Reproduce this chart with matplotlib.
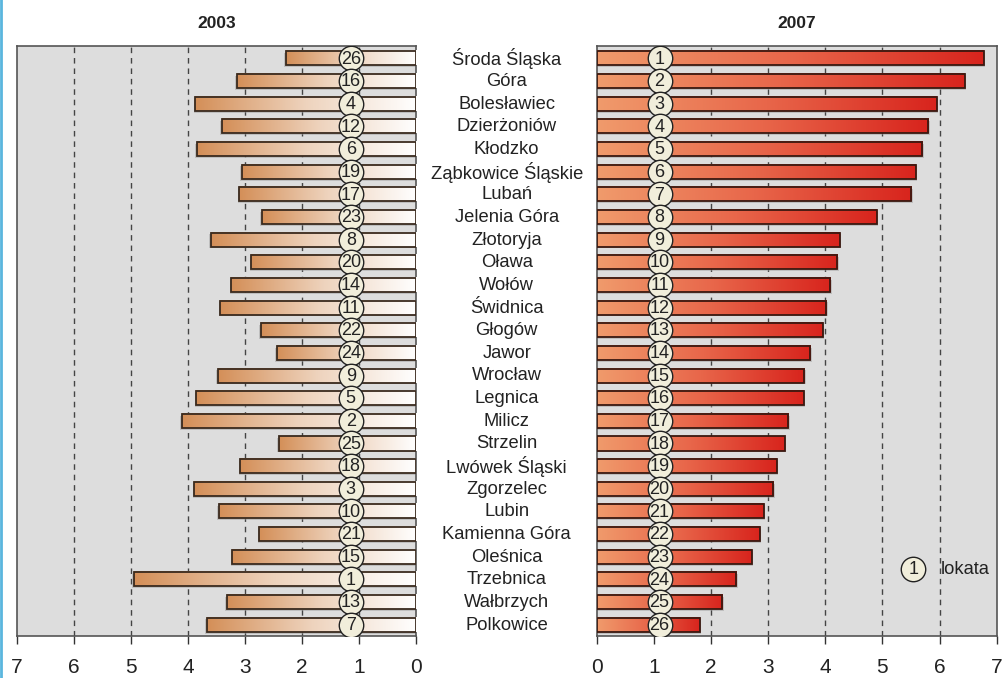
import numpy as np
import matplotlib
matplotlib.use("Agg")
import matplotlib.pyplot as plt
from matplotlib.colors import LinearSegmentedColormap
from matplotlib.transforms import blended_transform_factory
from matplotlib.lines import Line2D

plt.rcParams['font.family'] = ['Liberation Sans', 'DejaVu Sans']

counties = ["Środa Śląska", "Góra", "Bolesławiec", "Dzierżoniów", "Kłodzko",
            "Ząbkowice Śląskie", "Lubań", "Jelenia Góra", "Złotoryja", "Oława",
            "Wołów", "Świdnica", "Głogów", "Jawor", "Wrocław", "Legnica",
            "Milicz", "Strzelin", "Lwówek Śląski", "Zgorzelec", "Lubin",
            "Kamienna Góra", "Oleśnica", "Trzebnica", "Wałbrzych", "Polkowice"]

values_2003 = [2.29, 3.145, 3.87, 3.41, 3.84, 3.06, 3.10, 2.71, 3.60, 2.89,
               3.24, 3.43, 2.72, 2.445, 3.48, 3.85, 4.11, 2.415, 3.08, 3.89,
               3.46, 2.75, 3.22, 4.95, 3.32, 3.67]
ranks_2003 = [26, 16, 4, 12, 6, 19, 17, 23, 8, 20, 14, 11, 22, 24, 9, 5, 2,
              25, 18, 3, 10, 21, 15, 1, 13, 7]

values_2007 = [6.77, 6.44, 5.95, 5.80, 5.70, 5.58, 5.50, 4.90, 4.25, 4.21,
               4.09, 4.01, 3.955, 3.73, 3.635, 3.62, 3.35, 3.29, 3.15, 3.09,
               2.92, 2.85, 2.71, 2.44, 2.19, 1.80]
ranks_2007 = list(range(1, 27))

titles = ["2003", "2007"]
tick_values = [0, 1, 2, 3, 4, 5, 6, 7]
legend_label = "lokata"

W, H = 1003, 678
fig = plt.figure(figsize=(W / 100, H / 100), dpi=100)
fig.patch.set_facecolor("white")

bottom = (678 - 636) / H
height = 590 / H
ax1 = fig.add_axes([16.5 / W, bottom, 400 / W, height])
ax2 = fig.add_axes([596.7 / W, bottom, 400 / W, height])

cmap_left = LinearSegmentedColormap.from_list("l", ["#ffffff", "#eed3bd", "#d48f58"])
cmap_right = LinearSegmentedColormap.from_list("r", ["#f09b6c", "#e8664a", "#d8241d"])

y = np.arange(len(counties))
bar_h = 0.62
grad = np.linspace(0, 1, 256).reshape(1, -1)

def draw_panel(ax, vals, ranks, cmap, circ_x, edge):
    ax.set_facecolor("#dddddd")
    bars = ax.barh(y, vals, height=bar_h, facecolor="none", edgecolor=edge,
                   linewidth=1.3, zorder=4)
    for b in bars:
        x0, w = b.get_x(), b.get_width()
        yb, hh = b.get_y(), b.get_height()
        ax.add_patch(plt.Rectangle((x0, yb + 0.08), w + 0.03, hh, facecolor="#9a9a9a",
                                   edgecolor="none", alpha=0.45, zorder=2.5))
        ax.imshow(grad, cmap=cmap, extent=(x0, x0 + w, yb + hh, yb),
                  aspect="auto", interpolation="bilinear", zorder=3)
    ax.scatter([circ_x] * len(y), y, s=310, facecolor="#f1eedb", edgecolor="#222222",
               linewidth=1.0, zorder=5)
    for yi, r in zip(y, ranks):
        ax.text(circ_x, yi + 0.03, str(r), ha="center", va="center", fontsize=13,
                color="#222222", zorder=6)
    ax.set_ylim(25.5, -0.55)
    ax.set_yticks([])
    ax.set_xticks(tick_values)
    ax.set_xticklabels([str(t) for t in tick_values], fontsize=15, color="#222222")
    ax.tick_params(axis="x", direction="out", length=6, width=1, color="#333333", pad=10)
    for v in range(1, 7):
        ax.axvline(v, color="#444444", linestyle=(0, (4, 3.5)), linewidth=1.0, zorder=1)
    for s in ax.spines.values():
        s.set_color("#555555")
        s.set_linewidth(1.2)

draw_panel(ax1, values_2003, ranks_2003, cmap_left, 1.15, "#3a2a1e")
ax1.set_xlim(7, 0)
draw_panel(ax2, values_2007, ranks_2007, cmap_right, 1.1, "#3a1810")
ax2.set_xlim(0, 7)

ax1.set_title(titles[0], fontsize=12.5, fontweight="bold", color="#222222", pad=13)
ax2.set_title(titles[1], fontsize=12.5, fontweight="bold", color="#222222", pad=13)

trans = blended_transform_factory(fig.transFigure, ax1.transData)
for yi, name in zip(y, counties):
    fig.text(506.7 / W, yi + 0.02, name, transform=trans, ha="center", va="center",
             fontsize=13.2, color="#222222")

ax2.scatter([5.54], [22.55], s=310, facecolor="#f1eedb", edgecolor="#222222",
            linewidth=1.0, zorder=5)
ax2.text(5.54, 22.58, "1", ha="center", va="center", fontsize=13, color="#222222", zorder=6)
ax2.text(6.02, 22.58, legend_label, ha="left", va="center", fontsize=13.2,
         color="#222222", zorder=6)

fig.add_artist(Line2D([1 / W, 1 / W], [0, 1], color="#5ab6de", linewidth=2,
                      transform=fig.transFigure))

fig.savefig("out.png", dpi=100)
